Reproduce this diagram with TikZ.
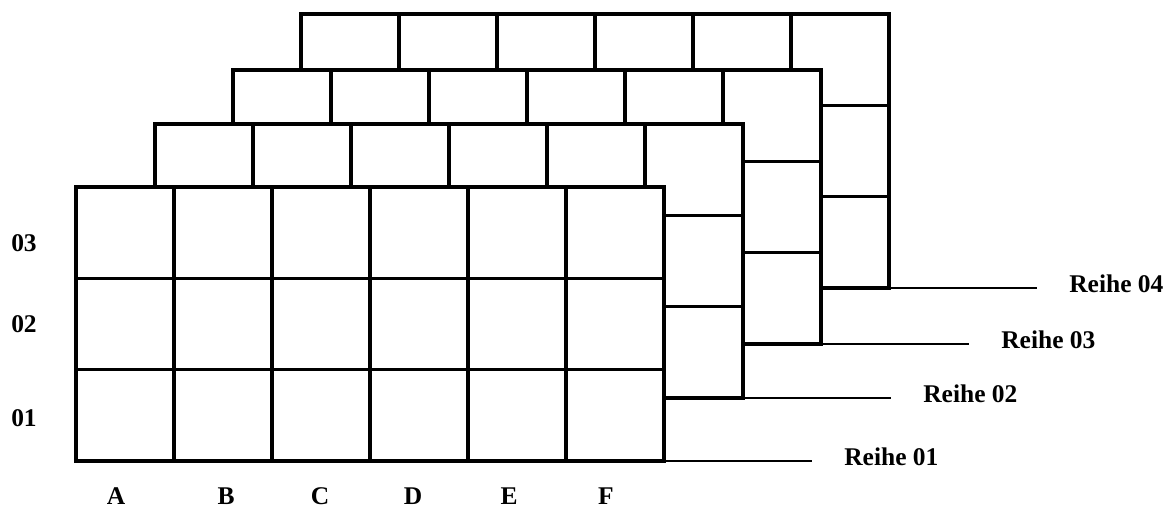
\documentclass[tikz,border=0pt]{standalone}
\usepackage{fontspec}
\setmainfont{Liberation Serif}
\usetikzlibrary{positioning}

\begin{document}
\begin{tikzpicture}[
    x=0.02cm, y=-0.02cm,
    every node/.style={font=\fontsize{14.5}{17}\selectfont\bfseries, inner sep=0pt},
    gitter/.style={line width=2pt, color=black},
    leine/.style={line width=1.3pt, color=black, shorten >=0.64cm},
    reihe/.style={anchor=west, yshift=0.09cm}
  ]
  \useasboundingbox (0,0) rectangle (1169,509);

  % ---- vier Lagen, von hinten nach vorne (weiss gefuellt = verdeckt) ------
  \foreach \n/\lx/\ly in {4/301/14, 3/233/70, 2/155/124, 1/76/187} {
    \begin{scope}[shift={(\lx,\ly)}]
      \filldraw[gitter, fill=white] (0,0) rectangle (588,274);
      \foreach \i in {1,...,5}
        \draw[gitter] (\i*98,0) -- (\i*98,274);
      \foreach \j in {1,2}
        \draw[gitter] (0,\j*91.33) -- (588,\j*91.33);
      \coordinate (ecke\n) at (588,274);
    \end{scope}
  }

  % ---- Reihen-Beschriftung rechts --------------------------------------
  \foreach \n in {1,...,4} {
    \node[reihe, right=3.6cm of ecke\n] (reihe\n) {Reihe 0\n};
    \draw[leine] (ecke\n) -- (ecke\n -| reihe\n.west);
  }

  % ---- Zeilen links, Spalten unten --------------------------------------
  \node (zeile3) at (24,243) {03};
  \node (zeile2) at (24,324) {02};
  \node (zeile1) at (24,418) {01};
  \foreach \s/\sx in {A/116, B/226, C/320, D/413, E/509, F/606}
    \node (spalte\s) at (\sx,496) {\s};

\end{tikzpicture}
\end{document}
